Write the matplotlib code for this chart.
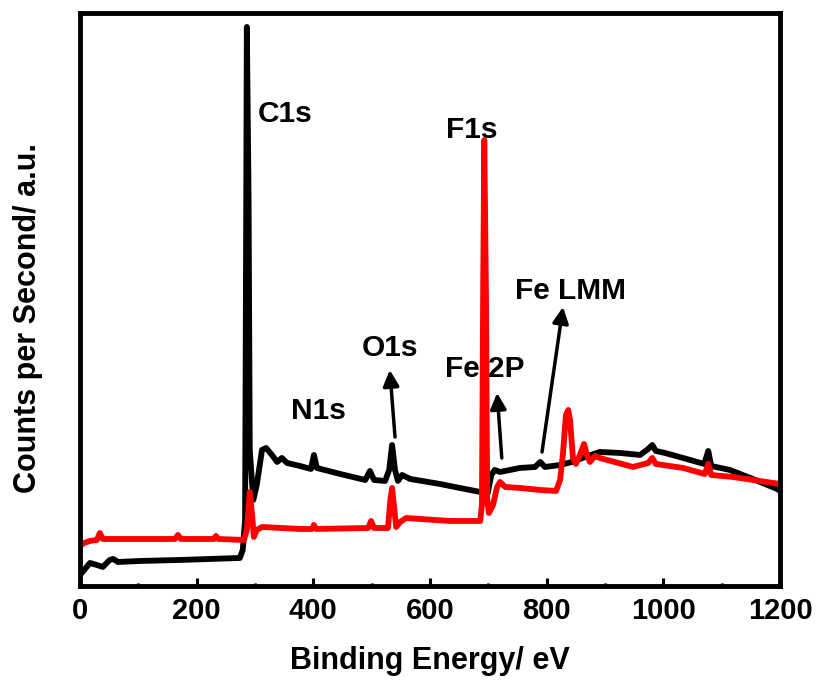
import numpy as np
import matplotlib
matplotlib.use("Agg")
from matplotlib import pyplot as plt

plt.rcParams['font.family'] = ['Liberation Sans', 'DejaVu Sans']
plt.rcParams['font.weight'] = 'bold'

# black spectrum (binding energy in eV, counts a.u.)
black_x = [0, 17, 29, 39, 51, 57, 65, 103, 171, 274, 279, 283, 285, 286, 289, 291,
           297, 303, 312, 319, 329, 338, 346, 355, 377, 396, 401, 406, 446, 489, 497,
           504, 523, 530, 535, 540, 545, 552, 566, 617, 651, 686, 699, 705, 711, 720,
           754, 780, 789, 797, 823, 843, 866, 891, 926, 960, 974, 981, 987, 1003, 1046,
           1070, 1077, 1082, 1114, 1149, 1195, 1200]
black_y = [11, 23, 21, 19, 26, 27, 24, 25, 26, 28, 36, 66, 386, 559, 386, 136,
           86, 101, 136, 138, 131, 124, 128, 123, 120, 117, 131, 118, 112, 106, 115,
           106, 105, 116, 141, 116, 105, 111, 107, 102, 98, 94, 93, 111, 116, 114,
           118, 119, 124, 119, 121, 124, 129, 134, 133, 131, 137, 141, 135, 133, 126,
           122, 135, 120, 116, 108, 97, 95]

# red spectrum
red_x = [0, 7, 17, 29, 34, 39, 69, 163, 168, 173, 230, 233, 237, 281, 286, 291,
         295, 298, 303, 312, 377, 398, 401, 405, 494, 499, 504, 528, 532, 535, 538,
         542, 549, 559, 583, 634, 686, 689, 691, 693, 696, 698, 701, 708, 715, 720,
         729, 754, 789, 816, 823, 828, 833, 837, 840, 845, 850, 857, 864, 869, 874,
         883, 891, 948, 974, 981, 987, 1034, 1071, 1077, 1082, 1119, 1200]
red_y = [40, 43, 45, 46, 53, 47, 47, 47, 51, 47, 47, 50, 47, 46, 56, 94,
         71, 49, 56, 59, 57, 57, 61, 57, 58, 65, 58, 58, 86, 98, 81,
         59, 64, 68, 67, 65, 65, 81, 286, 446, 286, 86, 73, 81, 99, 104,
         99, 98, 96, 95, 106, 133, 171, 176, 166, 128, 122, 131, 142, 131, 124,
         130, 128, 119, 123, 128, 122, 118, 112, 122, 111, 109, 102]

# peak labels: (text, x, y)
peak_labels = [("C1s", 351, 472), ("F1s", 672, 456), ("N1s", 408, 175),
               ("O1s", 531, 238), ("Fe 2P", 693, 217), ("Fe LMM", 840, 295)]
# arrows: (tip x, tip y, tail x, tail y)
arrows = [(531, 216, 540, 149), (715, 193, 723, 128), (828, 279, 792, 134)]

fig = plt.figure(figsize=(8.23, 6.82), dpi=100)
ax = fig.add_axes([0.0972, 0.1408, 0.8506, 0.8402])

ax.plot(black_x, black_y, c='black', lw=4.2, solid_joinstyle='round')
ax.plot(red_x, red_y, c='red', lw=4.2, solid_joinstyle='round')

for txt, x, y in peak_labels:
    ax.text(x, y, txt, fontsize=21.5, fontweight='bold', ha='center', va='center')
for tx, ty, sx, sy in arrows:
    ax.annotate('', xy=(tx, ty), xytext=(sx, sy),
                arrowprops=dict(arrowstyle='-|>', lw=2.5, color='black',
                                mutation_scale=24, shrinkA=0, shrinkB=0))

ax.set_xlim(0, 1200)
ax.set_ylim(0, 573)
ax.set_xticks(np.arange(0, 1201, 200))
ax.set_xticks(np.arange(100, 1200, 200), minor=True)
ax.set_yticks([])
ax.tick_params(axis='x', which='major', direction='in', length=6, width=2.2,
               labelsize=21, pad=8, top=False)
ax.tick_params(axis='x', which='minor', direction='in', length=2.5, width=2.2, top=False)
for lbl in ax.get_xticklabels():
    lbl.set_fontweight('bold')
for s in ax.spines.values():
    s.set_linewidth(3.5)

ax.set_xlabel("Binding Energy/ eV", fontsize=22, fontweight='bold')
ax.set_ylabel("Counts per Second/ a.u.", fontsize=22, fontweight='bold')
ax.xaxis.set_label_coords(0.5, -0.105)
ax.yaxis.set_label_coords(-0.053, 0.468)

fig.savefig("out.png", dpi=100)
